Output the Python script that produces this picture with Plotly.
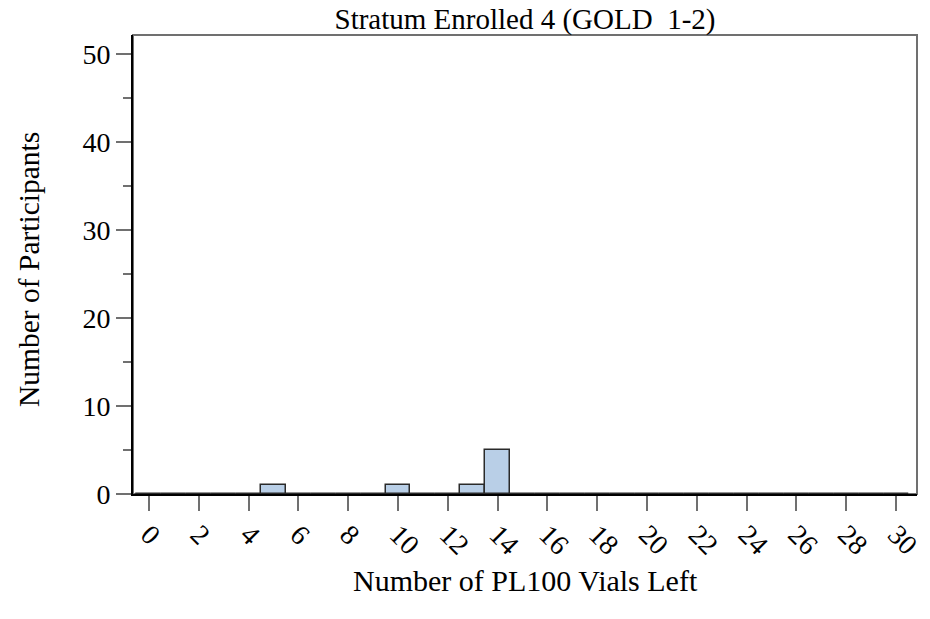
import plotly.graph_objects as go

# Data
vials_left = list(range(0, 31))
participants = [0, 0, 0, 0, 0, 1, 0, 0, 0, 0, 1, 0, 0, 1, 5,
                0, 0, 0, 0, 0, 0, 0, 0, 0, 0, 0, 0, 0, 0, 0, 0]
x_ticks = list(range(0, 31, 2))
y_ticks = [0, 10, 20, 30, 40, 50]
y_minor_ticks = [5, 15, 25, 35, 45]

title_text = "Stratum Enrolled 4 (GOLD\u00a0\u00a01-2)"
x_title = "Number of PL100 Vials Left"
y_title = "Number of Participants"

FONT = "Liberation Serif, Times New Roman, serif"
TICKGRAY = "#707070"

fig = go.Figure()
fig.add_trace(go.Bar(
    x=vials_left, y=participants, width=1.0,
    marker=dict(color="#b9cfe7", line=dict(color="#2a2a2a", width=1.5)),
    showlegend=False,
))

W, H = 930, 619
L, R, T, B = 133, 13, 35, 125
PW, PH = W - L - R, H - T - B
fig.update_layout(
    width=W, height=H, autosize=False,
    margin=dict(l=L, r=R, t=T, b=B, autoexpand=False),
    paper_bgcolor="white", plot_bgcolor="white",
    font=dict(family=FONT, color="black", size=27),
    title=dict(text=title_text, x=0.5, xref="paper", y=1 - 19 / H, yref="container",
               yanchor="middle", xanchor="center",
               font=dict(family=FONT, size=29, color="black")),
    bargap=0,
    xaxis=dict(
        range=[-0.64, 30.84], tickmode="array", tickvals=x_ticks,
        ticktext=[str(v) for v in x_ticks], tickangle=45, automargin=False,
        ticks="outside", ticklen=15, tickcolor=TICKGRAY, tickwidth=2,
        showline=True, linecolor="black", linewidth=2, showgrid=False, zeroline=False,
        tickfont=dict(family=FONT, size=28), ticklabelstandoff=-4,
    ),
    yaxis=dict(
        range=[0, 52.2], tickmode="array", tickvals=y_ticks, automargin=False,
        ticks="outside", ticklen=15, tickcolor=TICKGRAY, tickwidth=2,
        minor=dict(tickvals=y_minor_ticks, ticks="outside", ticklen=8,
                   tickcolor=TICKGRAY, tickwidth=2),
        showline=True, linecolor="black", linewidth=2, showgrid=False, zeroline=False,
        tickfont=dict(family=FONT, size=28),
    ),
    shapes=[dict(type="rect", xref="paper", yref="paper", x0=0, x1=1, y0=0, y1=1,
                 line=dict(color=TICKGRAY, width=2), layer="below")],
    annotations=[
        dict(text=x_title, xref="paper", yref="paper", x=0.5, y=-(580 - (H - B)) / PH,
             xanchor="center", yanchor="middle", showarrow=False,
             font=dict(family=FONT, size=30, color="black")),
        dict(text=y_title, xref="paper", yref="paper", x=-(L - 29) / PW,
             y=(H - B - 270) / PH,
             xanchor="center", yanchor="middle", textangle=-90, showarrow=False,
             font=dict(family=FONT, size=29.5, color="black")),
    ],
)

fig.write_html(
    "out.html",
    config={"displayModeBar": False, "responsive": False},
    post_script="document.body.style.margin='0';document.body.style.overflow='hidden';",
)
